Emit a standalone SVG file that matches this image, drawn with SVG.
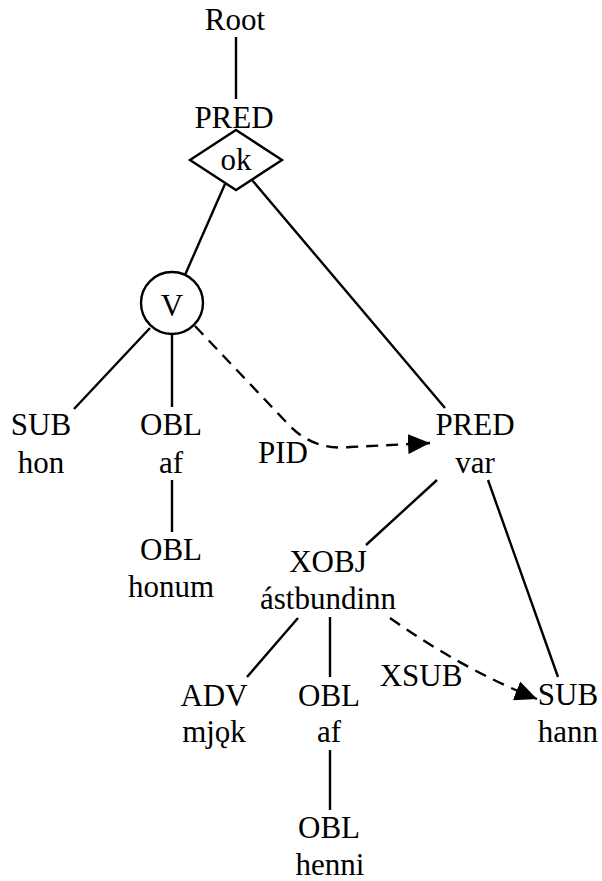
<svg xmlns="http://www.w3.org/2000/svg" width="602" height="881" viewBox="0 0 602 881">
  <style>
    text { font-family: "Liberation Serif", "Times New Roman", serif; font-size: 31px; fill: #000; text-anchor: middle; }
    .edge { stroke: #000; stroke-width: 2.4; fill: none; }
    .dash { stroke: #000; stroke-width: 2.4; fill: none; stroke-dasharray: 12 8; }
    .shape { stroke: #000; stroke-width: 2.4; fill: #fff; }
  </style>
  <defs>
    <marker id="arrow" markerUnits="userSpaceOnUse" markerWidth="24" markerHeight="20" refX="22" refY="10" orient="auto">
      <path d="M0,0 L22,10 L0,20 Z" fill="#000"/>
    </marker>
  </defs>
  <rect width="602" height="881" fill="#fff"/>

  <!-- connectors -->
  <g id="connectors">
    <line class="edge" x1="236" y1="37" x2="236" y2="99"/>
    <line class="edge" x1="225" y1="184" x2="185" y2="275"/>
    <line class="edge" x1="252" y1="180" x2="445" y2="408"/>
    <line class="edge" x1="150" y1="328" x2="74" y2="409"/>
    <line class="edge" x1="172" y1="334" x2="172" y2="407"/>
    <line class="edge" x1="172" y1="480" x2="172" y2="532"/>
    <line class="edge" x1="437" y1="480" x2="366" y2="545"/>
    <line class="edge" x1="488" y1="480" x2="558" y2="677"/>
    <line class="edge" x1="298" y1="618" x2="247" y2="677"/>
    <line class="edge" x1="330" y1="617" x2="330" y2="677"/>
    <line class="edge" x1="330" y1="750" x2="330" y2="810"/>
    <!-- PID: V to PRED var -->
    <path class="dash" d="M195,326 L288,424 Q313,451 350,447 L430,443" marker-end="url(#arrow)"/>
    <!-- XSUB: XOBJ to SUB hann -->
    <path class="dash" d="M390,618 Q464,670 537,699" marker-end="url(#arrow)"/>
    <text x="283" y="463">PID</text>
    <text x="421" y="686">XSUB</text>
  </g>

  <g id="root"><text x="235" y="30">Root</text></g>

  <g id="pred-ok">
    <text x="234" y="128">PRED</text>
    <polygon class="shape" points="236,130 282,160 236,190 190,160"/>
    <text x="236" y="170">ok</text>
  </g>

  <g id="v">
    <circle class="shape" cx="172" cy="303" r="31"/>
    <text x="172" y="316">V</text>
  </g>

  <g id="sub-hon">
    <text x="41" y="435">SUB</text>
    <text x="41" y="473">hon</text>
  </g>

  <g id="obl-af-1">
    <text x="171" y="435">OBL</text>
    <text x="171" y="473">af</text>
  </g>

  <g id="obl-honum">
    <text x="171" y="560">OBL</text>
    <text x="171" y="597">honum</text>
  </g>

  <g id="pred-var">
    <text x="475" y="435">PRED</text>
    <text x="475" y="473">var</text>
  </g>

  <g id="xobj">
    <text x="328" y="572">XOBJ</text>
    <text x="328" y="609">ástbundinn</text>
  </g>

  <g id="adv">
    <text x="214" y="706">ADV</text>
    <text x="214" y="742">mjǫk</text>
  </g>

  <g id="obl-af-2">
    <text x="329" y="706">OBL</text>
    <text x="329" y="742">af</text>
  </g>

  <g id="obl-henni">
    <text x="329" y="838">OBL</text>
    <text x="330" y="875">henni</text>
  </g>

  <g id="sub-hann">
    <text x="568" y="705">SUB</text>
    <text x="568" y="742">hann</text>
  </g>
</svg>
